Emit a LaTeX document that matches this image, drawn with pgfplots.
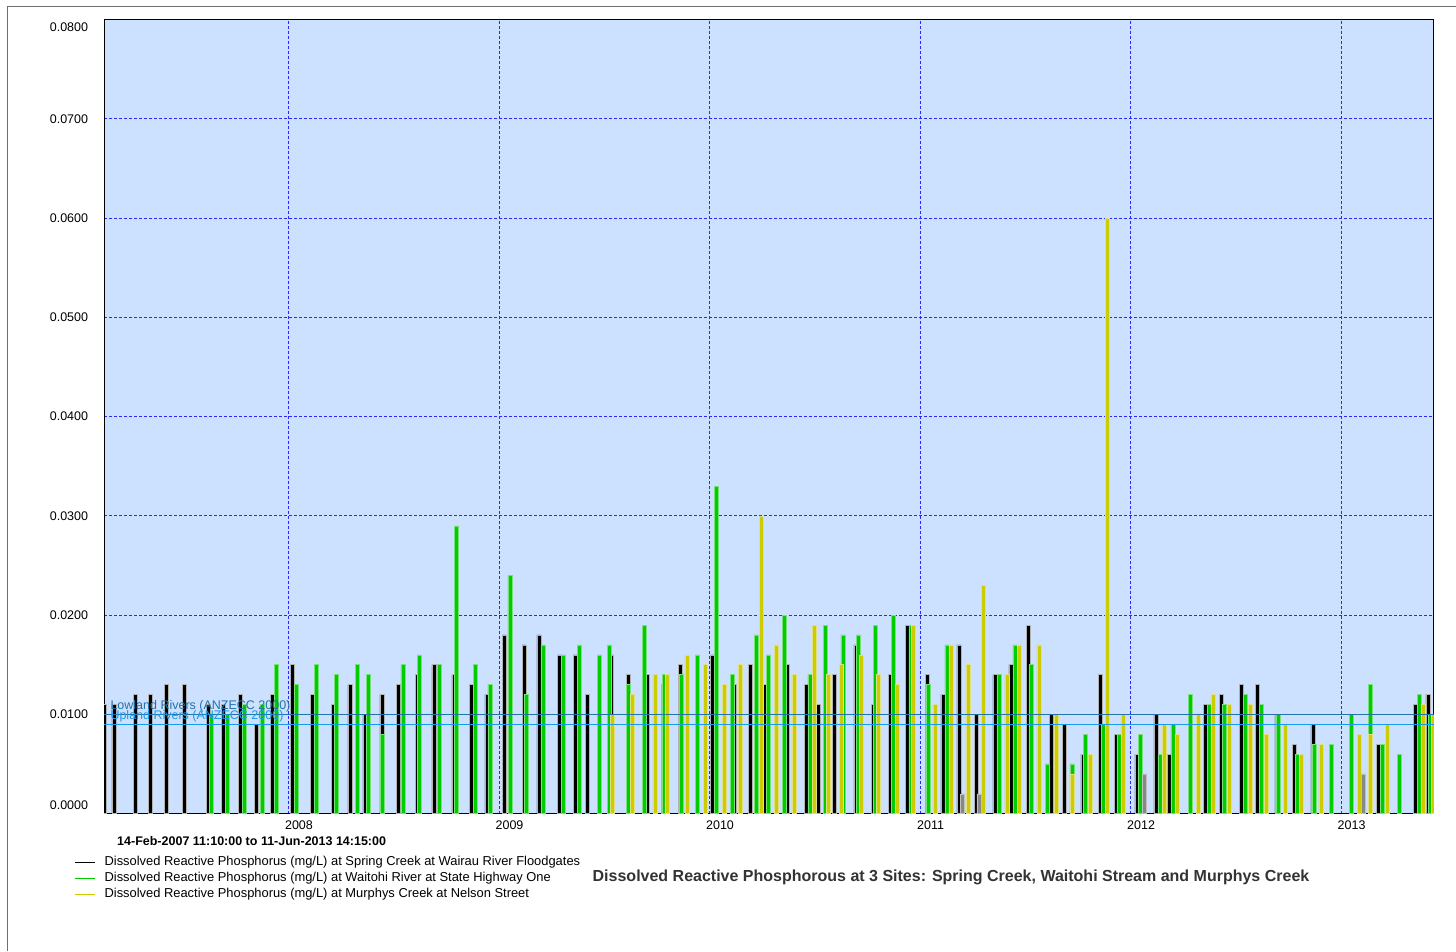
\documentclass[border=0pt]{standalone}
\usepackage{pgfplots}
\pgfplotsset{compat=1.18}
\usepackage{fontspec}
\setmainfont{Liberation Sans}
\definecolor{bgblue}{RGB}{204,224,255}
\definecolor{grn}{RGB}{0,204,0}
\definecolor{grnedge}{RGB}{120,225,120}
\definecolor{yel}{RGB}{204,204,0}
\definecolor{yeledge}{RGB}{225,225,130}
\definecolor{gry}{RGB}{136,136,136}
\definecolor{lowland}{RGB}{35,115,170}
\definecolor{upland}{RGB}{25,155,235}
\definecolor{gridblue}{RGB}{40,40,255}
\definecolor{frame}{RGB}{110,110,110}
\newcommand\fs{\fontsize{12.5}{14}\selectfont}
\newcommand\fl{\fontsize{12.9}{14}\selectfont}
\begin{document}
\begin{tikzpicture}
\path[use as bounding box] (0pt,0pt) rectangle (1456pt,-951pt);
\draw[frame, line width=1pt] (7pt,-951pt) -- (7pt,-6pt) -- (1456pt,-6pt);
\begin{axis}[
  at={(104pt,-813.6pt)}, anchor=south west,
  scale only axis, width=1330pt, height=794.1pt,
  xmin=2007.1226, xmax=2013.4404, ymin=0, ymax=0.08,
  axis background/.style={fill=bgblue},
  axis line style={black, line width=1pt},
  major tick length=0pt,
  xtick={2008,2009,2010,2011,2012,2013},
  xticklabels={2008,2009,2010,2011,2012,2013},
  ytick={0,0.01,0.02,0.03,0.04,0.05,0.06,0.07,0.08},
  yticklabels={\raisebox{8.5pt}[\height][\depth]{0.0000},0.0100,0.0200,0.0300,0.0400,0.0500,0.0600,0.0700,\raisebox{-7.5pt}[\height][\depth]{0.0800}},
  scaled x ticks=false, scaled y ticks=false,
  tick label style={font=\fs},
  xticklabel style={anchor=north, inner sep=0pt, xshift=10.3pt, yshift=-7pt},
  yticklabel style={anchor=east, inner sep=0pt, xshift=-15.7pt},
  grid=major,
  major grid style={gridblue, line width=1pt, dash pattern=on 3pt off 2pt},
  legend image code/.code={\draw[#1, line width=1pt] (0pt,0pt) -- (20pt,0pt);},
  legend style={at={(axis description cs:-0.02256,-0.054)}, anchor=north west,
    draw=none, fill=none, inner sep=0pt, font=\fl, row sep=4pt,
    nodes={inner sep=0pt, text height=9pt, text depth=3pt},
    /tikz/every odd column/.append style={column sep=9.4pt}},
  legend cell align=left,
]
% Spring Creek (black)
\addplot[forget plot, ybar, bar shift=0pt, bar width=4pt, fill=black, draw=gray!60, line width=0.5pt] table {
2007.124 0.011
2007.170 0.011
2007.270 0.012
2007.344 0.012
2007.420 0.013
2007.503 0.013
2007.620 0.011
2007.688 0.011
2007.769 0.012
2007.845 0.009
2007.921 0.012
2008.016 0.015
2008.111 0.012
2008.212 0.011
2008.291 0.013
2008.362 0.010
2008.443 0.012
2008.521 0.013
2008.611 0.014
2008.690 0.015
2008.785 0.014
2008.866 0.013
2008.941 0.012
2009.023 0.018
2009.118 0.017
2009.188 0.018
2009.286 0.016
2009.360 0.016
2009.419 0.012
2009.533 0.016
2009.613 0.014
2009.704 0.014
2009.780 0.013
2009.859 0.015
2010.014 0.016
2010.117 0.013
2010.193 0.015
2010.263 0.013
2010.366 0.015
2010.458 0.013
2010.516 0.011
2010.591 0.014
2010.694 0.017
2010.777 0.011
2010.857 0.014
2010.939 0.019
2011.034 0.014
2011.108 0.012
2011.183 0.017
2011.268 0.010
2011.355 0.014
2011.431 0.015
2011.514 0.019
2011.623 0.010
2011.686 0.009
2011.773 0.006
2011.857 0.014
2011.933 0.008
2012.029 0.006
2012.119 0.010
2012.183 0.006
2012.353 0.011
2012.430 0.012
2012.527 0.013
2012.603 0.013
2012.694 0.010
2012.776 0.007
2012.865 0.009
2013.178 0.007
2013.351 0.011
2013.411 0.012
};
% Waitohi (green)
\addplot[forget plot, ybar, bar shift=0pt, bar width=4pt, fill=grn, draw=grnedge, line width=0.5pt] table {
2007.634 0.010
2007.710 0.010
2007.791 0.011
2007.873 0.011
2007.940 0.015
2008.035 0.013
2008.133 0.015
2008.228 0.014
2008.326 0.015
2008.378 0.014
2008.445 0.008
2008.542 0.015
2008.619 0.016
2008.714 0.015
2008.798 0.029
2008.885 0.015
2008.956 0.013
2009.051 0.024
2009.127 0.012
2009.207 0.017
2009.305 0.016
2009.381 0.017
2009.476 0.016
2009.523 0.017
2009.615 0.013
2009.688 0.019
2009.786 0.014
2009.867 0.014
2009.941 0.016
2010.030 0.033
2010.109 0.014
2010.220 0.018
2010.278 0.016
2010.353 0.020
2010.476 0.014
2010.548 0.019
2010.632 0.018
2010.706 0.018
2010.788 0.019
2010.872 0.020
2010.955 0.019
2011.036 0.013
2011.126 0.017
2011.374 0.014
2011.449 0.017
2011.525 0.015
2011.604 0.005
2011.720 0.005
2011.783 0.008
2011.870 0.009
2011.943 0.008
2012.044 0.008
2012.138 0.006
2012.200 0.009
2012.282 0.012
2012.372 0.011
2012.443 0.011
2012.544 0.012
2012.622 0.011
2012.701 0.010
2012.790 0.006
2012.871 0.007
2012.952 0.007
2013.047 0.010
2013.140 0.013
2013.194 0.007
2013.275 0.006
2013.370 0.012
2013.425 0.010
};
% Murphys Creek (yellow)
\addplot[forget plot, ybar, bar shift=0pt, bar width=4pt, fill=yel, draw=yeledge, line width=0.5pt] table {
2009.537 0.010
2009.632 0.012
2009.740 0.014
2009.797 0.014
2009.892 0.016
2009.981 0.015
2010.069 0.013
2010.145 0.015
2010.244 0.030
2010.315 0.017
2010.400 0.014
2010.497 0.019
2010.563 0.014
2010.624 0.015
2010.722 0.016
2010.800 0.014
2010.893 0.013
2010.967 0.019
2011.069 0.011
2011.145 0.017
2011.226 0.015
2011.300 0.023
2011.411 0.014
2011.471 0.017
2011.563 0.017
2011.648 0.010
2011.722 0.004
2011.808 0.006
2011.889 0.060
2011.962 0.010
2012.157 0.009
2012.219 0.008
2012.320 0.010
2012.390 0.012
2012.467 0.011
2012.567 0.011
2012.643 0.008
2012.733 0.009
2012.812 0.006
2012.903 0.007
2013.085 0.008
2013.137 0.008
2013.218 0.009
2013.388 0.011
2013.438 0.010
};
% grey bars
\addplot[forget plot, ybar, bar shift=0pt, bar width=4pt, fill=gry, draw=gray!50, line width=0.5pt] table {
2011.200 0.002
2011.279 0.002
2012.065 0.004
2013.104 0.004
};
% guideline values
\addplot[forget plot, lowland, line width=1pt] coordinates {(2007.1226,0.010) (2013.4404,0.010)}
  node[pos=0, anchor=base west, xshift=6pt, yshift=4.5pt, text=lowland, font=\fs, inner sep=0pt] {Lowland Rivers (ANZECC 2000)};
\addplot[forget plot, upland, line width=1pt] coordinates {(2007.1226,0.009) (2013.4404,0.009)}
  node[pos=0, anchor=base west, xshift=6pt, yshift=5pt, text=upland, font=\fs, inner sep=0pt] {Upland Rivers (ANZECC 2000)};
\addlegendimage{black}
\addlegendentry{Dissolved Reactive Phosphorus (mg/L) at Spring Creek at Wairau River Floodgates}
\addlegendimage{grn}
\addlegendentry{Dissolved Reactive Phosphorus (mg/L) at Waitohi River at State Highway One}
\addlegendimage{yel}
\addlegendentry{Dissolved Reactive Phosphorus (mg/L) at Murphys Creek at Nelson Street}
\end{axis}
\node[anchor=west, font=\fs\bfseries, inner sep=0pt] at (117pt,-841pt) {14-Feb-2007 11:10:00 to 11-Jun-2013 14:15:00};
\node[anchor=center, font=\fontsize{16}{18}\selectfont\bfseries, inner sep=0pt, text=black!80] at (951pt,-877pt) {Dissolved Reactive Phosphorous at 3 Sites: Spring Creek, Waitohi Stream and Murphys Creek};
\end{tikzpicture}
\end{document}
